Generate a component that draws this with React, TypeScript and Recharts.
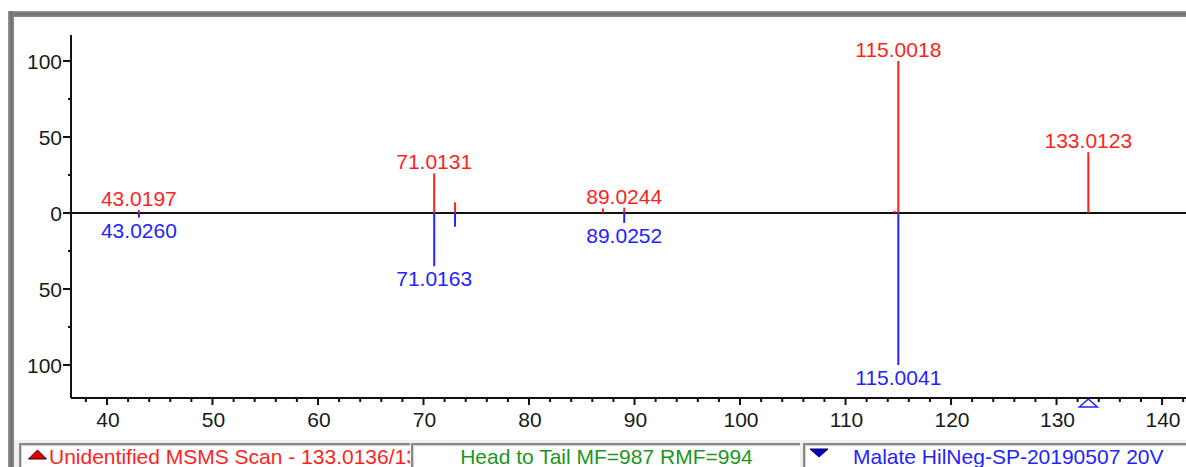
import React from 'react';
import { ComposedChart, XAxis, YAxis, ReferenceLine, ReferenceDot, Scatter } from 'recharts';

// Measured (unknown) MS/MS spectrum, drawn upward
const unknownMz = [43.0197, 71.0131, 72.99, 87.008, 89.0244, 114.63, 115.0018, 133.0123];
const unknownIntensity = [2, 26, 7, 3, 3.5, 1.5, 100, 40];
const unknownLabels = ['43.0197', '71.0131', '', '', '89.0244', '', '115.0018', '133.0123'];

// Library spectrum, drawn downward (tail)
const libraryMz = [43.026, 71.0163, 72.99, 89.0252, 115.0041];
const libraryIntensity = [-3, -35, -9, -6.5, -100];
const libraryLabels = ['43.0260', '71.0163', '', '89.0252', '115.0041'];

const precursorMz = 133.0136;

const xTicks = [
  38, 40, 42, 44, 46, 48, 50, 52, 54, 56, 58, 60, 62, 64, 66, 68, 70, 72, 74, 76, 78, 80,
  82, 84, 86, 88, 90, 92, 94, 96, 98, 100, 102, 104, 106, 108, 110, 112, 114, 116, 118,
  120, 122, 124, 126, 128, 130, 132, 134, 136, 138, 140, 142,
];
const yTicks = [-100, -75, -50, -25, 0, 25, 50, 75, 100];

const statusLeft = 'Unidentified MSMS Scan - 133.0136/133.0136';
const statusMiddle = 'Head to Tail MF=987 RMF=994';
const statusRight = 'Malate HilNeg-SP-20190507 20V';

const RED = '#ff1f1f';
const BLUE = '#2323ff';
const GREEN = '#1c961c';
const FONT = '"Liberation Sans", Arial, sans-serif';

const unknownPeaks = unknownMz.map((mz, i) => ({ mz, intensity: unknownIntensity[i], label: unknownLabels[i] }));
const libraryPeaks = libraryMz.map((mz, i) => ({ mz, intensity: libraryIntensity[i], label: libraryLabels[i] }));

function XTick(props: any) {
  const { x, y, payload } = props;
  const v = payload.value;
  const major = v % 10 === 0;
  return (
    <g>
      <line x1={x} x2={x} y1={y - 6} y2={y - 6 + (major ? 7 : 4)} stroke="#111" strokeWidth={2} />
      {major && (
        <text x={x + 1} y={y + 23} textAnchor="middle" fontSize={21} fontFamily={FONT} fill="#1a1a1a">
          {v}
        </text>
      )}
    </g>
  );
}

function YTick(props: any) {
  const { x, y, payload } = props;
  const v = payload.value;
  const major = v % 50 === 0;
  return (
    <g>
      <line x1={x + (major ? 1 : 6)} x2={x + 9} y1={y} y2={y} stroke="#111" strokeWidth={2} />
      {major && (
        <text x={x} y={y + 8} textAnchor="end" fontSize={21} fontFamily={FONT} fill="#1a1a1a">
          {Math.abs(v)}
        </text>
      )}
    </g>
  );
}

function PeakLabel(color: string) {
  return (props: any) => {
    const { cx, cy, payload } = props;
    if (!payload.label) return <g />;
    const up = payload.intensity >= 0;
    return (
      <text x={cx} y={up ? cy - 4 : cy + 20} textAnchor="middle" fontSize={21} fontFamily={FONT} fill={color}>
        {payload.label}
      </text>
    );
  };
}

function PrecursorMarker(props: any) {
  const { cx, cy } = props;
  return (
    <polygon
      points={`${cx},${cy + 1} ${cx - 9},${cy + 9} ${cx + 9},${cy + 9}`}
      fill="#fff"
      stroke={BLUE}
      strokeWidth={1.5}
    />
  );
}

const panelStyle: React.CSSProperties = {
  position: 'absolute',
  top: 443,
  height: 26,
  background: '#fff',
  borderTop: '2px solid #8a8a8a',
  borderLeft: '2px solid #8a8a8a',
  boxShadow: 'inset 1px 1px 0 #d0d0d0',
  overflow: 'hidden',
  whiteSpace: 'nowrap',
  fontFamily: FONT,
  fontSize: 21,
  lineHeight: '23px',
  boxSizing: 'border-box',
};

export default function App() {
  return (
    <div style={{ position: 'absolute', left: 0, top: 0, width: 1186, height: 467, background: '#fff', overflow: 'hidden' }}>
      {/* window frame */}
      <div
        style={{
          position: 'absolute',
          left: 8,
          top: 11,
          width: 1178,
          height: 6,
          background: 'linear-gradient(#9a9a9a, #6e6e6e 50%, #8c8c8c)',
        }}
      />
      <div
        style={{
          position: 'absolute',
          left: 8,
          top: 11,
          width: 6,
          height: 456,
          background: 'linear-gradient(90deg, #9a9a9a, #6e6e6e 50%, #8c8c8c)',
        }}
      />
      <div style={{ position: 'absolute', left: 0, top: 0 }}>
        <ComposedChart width={1186} height={467} margin={{ top: 35, right: 0, bottom: 0, left: 0 }}>
          <XAxis
            type="number"
            dataKey="mz"
            domain={[36.59, 142.27]}
            ticks={xTicks}
            interval={0}
            allowDataOverflow
            height={69}
            tickSize={6}
            tickMargin={0}
            tickLine={false}
            axisLine={{ stroke: '#111', strokeWidth: 2 }}
            tick={<XTick />}
          />
          <YAxis
            type="number"
            dataKey="intensity"
            domain={[-121.7, 117.1]}
            ticks={yTicks}
            interval={0}
            allowDataOverflow
            width={71}
            tickSize={8}
            tickMargin={1}
            tickLine={false}
            axisLine={{ stroke: '#111', strokeWidth: 2 }}
            tick={<YTick />}
          />
          <ReferenceLine y={0} stroke="#111" strokeWidth={2} />
          {unknownPeaks.map((p) => (
            <ReferenceLine
              key={`u${p.mz}`}
              segment={[{ x: p.mz, y: 0 }, { x: p.mz, y: p.intensity }]}
              stroke={RED}
              strokeWidth={2}
            />
          ))}
          {libraryPeaks.map((p) => (
            <ReferenceLine
              key={`l${p.mz}`}
              segment={[{ x: p.mz, y: 0 }, { x: p.mz, y: p.intensity }]}
              stroke={BLUE}
              strokeWidth={2}
            />
          ))}
          <Scatter data={unknownPeaks} dataKey="intensity" isAnimationActive={false} shape={PeakLabel(RED)} />
          <Scatter data={libraryPeaks} dataKey="intensity" isAnimationActive={false} shape={PeakLabel(BLUE)} />
          <ReferenceDot x={precursorMz} y={-121.7} ifOverflow="visible" shape={PrecursorMarker} />
        </ComposedChart>
      </div>
      {/* status bar */}
      <div style={{ position: 'absolute', left: 14, top: 440, width: 1172, height: 27, background: '#f0f0f0' }} />
      <div style={{ ...panelStyle, left: 19, width: 391, color: RED }}>
        <svg width={22} height={14} style={{ position: 'absolute', left: 6, top: 3 }}>
          <polygon points="10.5,2 1.5,11 19.5,11" fill="#e00000" stroke="#300" strokeWidth={1} />
        </svg>
        <span style={{ position: 'absolute', left: 28, top: 0 }}>{statusLeft}</span>
      </div>
      <div style={{ ...panelStyle, left: 411, width: 389, color: GREEN, textAlign: 'center' }}>{statusMiddle}</div>
      <div style={{ ...panelStyle, left: 803, width: 390, color: BLUE }}>
        <svg width={22} height={12} style={{ position: 'absolute', left: 4, top: 3 }}>
          <polygon points="1,1 19,1 10,9" fill="#0000c8" stroke="#000040" strokeWidth={1} />
        </svg>
        <span style={{ position: 'absolute', left: 48, top: 0 }}>{statusRight}</span>
      </div>
    </div>
  );
}
